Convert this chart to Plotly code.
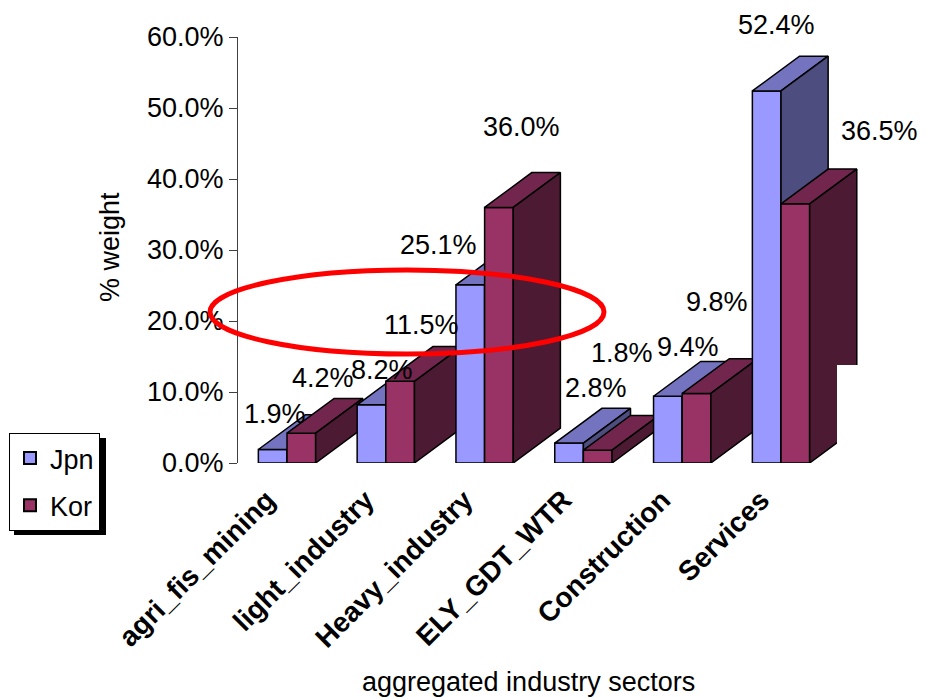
import plotly.graph_objects as go

# Sector shares of total weight (%)
categories = ["agri_fis_mining", "light_industry", "Heavy_industry",
              "ELY_GDT_WTR", "Construction", "Services"]
jpn = [1.9, 8.2, 25.1, 2.8, 9.4, 52.4]
kor = [4.2, 11.5, 36.0, 1.8, 9.8, 36.5]
y_ticks = [0, 10, 20, 30, 40, 50, 60]

# Value-label nudges in pixels (right, up) from each bar's top
jpn_label_shift = [(2, 36), (11, 35), (-32, 40), (27, 55), (20, 49), (10, 66)]
kor_label_shift = [(22, 55), (21, 56), (23, 80), (24, 97), (20, 91), (84, 73)]

FONT = "Liberation Sans, Arial, sans-serif"
FS = 27
BAR_W = 0.29      # width of each column (category units)
DEPTH_X = 0.477   # receding depth, horizontal part (category units)
DEPTH_Y = 4.9     # receding depth, vertical part (% units)

COLORS = {
    "Jpn": {"front": "#9999FF", "top": "#7373BF", "side": "#4D4D80"},
    "Kor": {"front": "#993366", "top": "#73264D", "side": "#4D1A33"},
}

# plot area geometry (pixels)
L, R, T, B = 238, 66, 37, 235
W, H = 930 - L - R, 698 - T - B


def px_to_paper(px, py):
    return (px - L) / W, (T + H - py) / H


def face(xs, ys, color):
    return go.Scatter(
        x=xs, y=ys, mode="lines", fill="toself", fillcolor=color,
        line=dict(color="black", width=1.5), hoverinfo="skip",
        showlegend=False,
    )


def column(fig, center, value, palette):
    xl, xr = center - BAR_W / 2, center + BAR_W / 2
    v = value
    fig.add_trace(face([xl, xr, xr, xl, xl], [0, 0, v, v, 0], palette["front"]))
    fig.add_trace(face([xl, xr, xr + DEPTH_X, xl + DEPTH_X, xl],
                       [v, v, v + DEPTH_Y, v + DEPTH_Y, v], palette["top"]))
    fig.add_trace(face([xr, xr + DEPTH_X, xr + DEPTH_X, xr, xr],
                       [0, DEPTH_Y, v + DEPTH_Y, v, 0], palette["side"]))


fig = go.Figure()
for i in range(len(categories)):
    column(fig, i - BAR_W / 2, jpn[i], COLORS["Jpn"])
    column(fig, i + BAR_W / 2, kor[i], COLORS["Kor"])

# legend entries
for name in ["Jpn", "Kor"]:
    fig.add_trace(go.Scatter(
        x=[None], y=[None], mode="markers", name=name, legendgroup=name,
        marker=dict(symbol="square", size=16, color=COLORS[name]["front"],
                    line=dict(color="black", width=1.5)),
    ))

annotations = []
for series, shifts in ((jpn, jpn_label_shift), (kor, kor_label_shift)):
    off = -BAR_W / 2 if series is jpn else BAR_W / 2
    for i, v in enumerate(series):
        annotations.append(dict(
            x=i + off, y=v, xref="x", yref="y", text=f"{v:.1f}%",
            showarrow=False, xshift=shifts[i][0], yshift=shifts[i][1],
            xanchor="center", yanchor="middle",
            font=dict(family=FONT, size=FS, color="black"),
        ))

tx, ty = px_to_paper(110, 247)
annotations.append(dict(x=tx, y=ty, xref="paper", yref="paper", text="% weight",
                        textangle=-90, showarrow=False,
                        xanchor="center", yanchor="middle",
                        font=dict(family=FONT, size=FS, color="black")))
tx, ty = px_to_paper(528, 682)
annotations.append(dict(x=tx, y=ty, xref="paper", yref="paper",
                        text="aggregated industry sectors", showarrow=False,
                        xanchor="center", yanchor="middle",
                        font=dict(family=FONT, size=FS, color="black")))

shapes = []
# highlight ring around the 20% band
x0, y0 = px_to_paper(210, 270)
x1, y1 = px_to_paper(604, 354)
shapes.append(dict(type="circle", xref="paper", yref="paper",
                   x0=x0, x1=x1, y0=y1, y1=y0,
                   line=dict(color="#FF0000", width=5), layer="above"))
# blank patch at the lower right of the last column's side
x0, y0 = px_to_paper(837, 365)
x1, y1 = px_to_paper(866, 470)
shapes.append(dict(type="rect", xref="paper", yref="paper",
                   x0=x0, x1=x1, y0=y1, y1=y0,
                   fillcolor="white", line=dict(width=0), layer="above"))
# legend drop shadow
x0, y0 = px_to_paper(14, 438)
x1, y1 = px_to_paper(106, 535)
shapes.append(dict(type="rect", xref="paper", yref="paper",
                   x0=x0, x1=x1, y0=y1, y1=y0,
                   fillcolor="black", line=dict(width=0), layer="above"))

lx, ly = px_to_paper(9, 433)
fig.update_layout(
    width=930, height=698,
    margin=dict(l=L, r=R, t=T, b=B, autoexpand=False),
    paper_bgcolor="white", plot_bgcolor="white",
    font=dict(family=FONT, size=FS, color="black"),
    showlegend=True,
    legend=dict(x=lx, y=ly, xanchor="left", yanchor="top",
                bgcolor="white", bordercolor="black", borderwidth=1,
                font=dict(family=FONT, size=FS, color="black"),
                tracegroupgap=9, itemsizing="constant"),
    annotations=annotations,
    shapes=shapes,
    xaxis=dict(range=[-0.496, 5.84], tickvals=list(range(len(categories))),
               ticktext=categories, tickangle=-45, showgrid=False,
               zeroline=False, showline=False, ticks="", automargin=False,
               ticklabelshift=-20, ticklabelstandoff=14,
               tickfont=dict(family=FONT, size=28, color="black", weight="bold")),
    yaxis=dict(range=[0, 60], tickvals=y_ticks,
               ticktext=[f"{t:.1f}%" for t in y_ticks],
               showline=True, linecolor="#404040", linewidth=1,
               ticks="outside", ticklen=8, tickcolor="#404040",
               showgrid=False, zeroline=False, automargin=False,
               tickfont=dict(family=FONT, size=FS, color="black")),
)

fig.write_html("out.html")
